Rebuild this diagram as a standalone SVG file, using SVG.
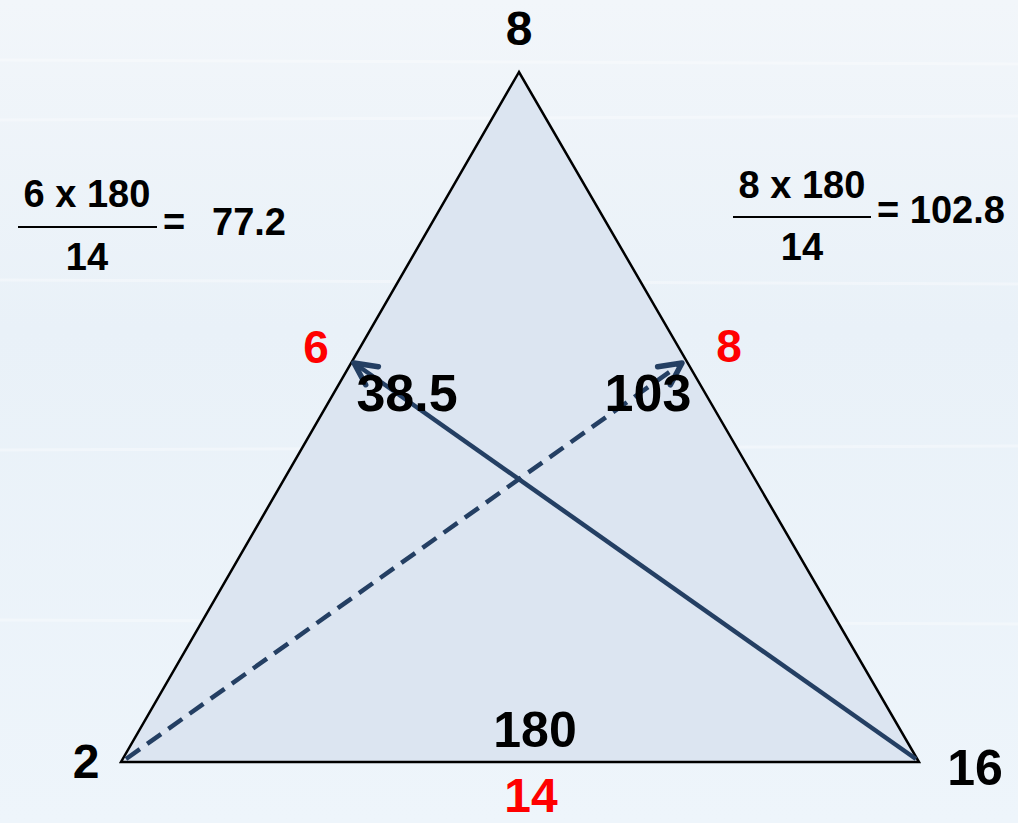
<svg xmlns="http://www.w3.org/2000/svg" width="1018" height="823" viewBox="0 0 1018 823">
<defs>
<linearGradient id="bg" x1="0" y1="0" x2="0" y2="1">
<stop offset="0" stop-color="#f2f6fa"/>
<stop offset="0.4" stop-color="#e9f1f8"/>
<stop offset="1" stop-color="#eef5fb"/>
</linearGradient>
<marker id="arr" viewBox="0 0 20 20" refX="17" refY="10" markerWidth="7" markerHeight="7" markerUnits="strokeWidth" orient="auto">
<path d="M3,3 L17,10 L3,17" fill="none" stroke="#243f63" stroke-width="3.5" stroke-linecap="round" stroke-linejoin="round"/>
</marker>
<style>
.t{font-family:"Liberation Sans",Arial,sans-serif;font-weight:bold;fill:#000}
.r{fill:#ff0000}
.f{font-size:38px}
.c{stroke:#243f63;stroke-width:4.5;fill:none}
</style>
</defs>
<rect width="1018" height="823" fill="url(#bg)"/>
<g opacity="0.35" stroke="#ffffff" stroke-width="3">
<line x1="0" y1="60" x2="1018" y2="64"/>
<line x1="0" y1="120" x2="1018" y2="116"/>
<line x1="0" y1="280" x2="1018" y2="284"/>
<line x1="0" y1="450" x2="1018" y2="446"/>
<line x1="0" y1="620" x2="1018" y2="624"/>
</g>
<g id="triangle">
<polygon points="519,72 121,762 919,762" fill="#dce5f1" stroke="#000" stroke-width="2.5" stroke-linejoin="miter"/>
</g>
<g id="connectors">
<line class="c" x1="916" y1="759" x2="354" y2="363" marker-end="url(#arr)"/>
<line class="c" x1="126" y1="759" x2="682" y2="363" stroke-dasharray="17,9" marker-end="url(#arr)"/>
</g>
<g id="vertex-labels">
<text class="t" x="519" y="45" font-size="48" text-anchor="middle">8</text>
<text class="t" x="86" y="778" font-size="48" text-anchor="middle">2</text>
<text class="t" x="975" y="785" font-size="50" text-anchor="middle">16</text>
</g>
<g id="side-labels">
<text class="t r" x="316" y="363" font-size="46" text-anchor="middle">6</text>
<text class="t r" x="729" y="362" font-size="46" text-anchor="middle">8</text>
<text class="t r" x="531" y="812" font-size="48" text-anchor="middle">14</text>
</g>
<g id="angle-labels">
<text class="t" x="407" y="411" font-size="52" text-anchor="middle">38.5</text>
<text class="t" x="648" y="411" font-size="52" text-anchor="middle">103</text>
<text class="t" x="535" y="747" font-size="50" text-anchor="middle">180</text>
</g>
<g id="formula-left">
<text class="t f" x="87" y="207" text-anchor="middle">6 x 180</text>
<line x1="18" y1="227" x2="157" y2="227" stroke="#000" stroke-width="2"/>
<text class="t f" x="87" y="270" text-anchor="middle">14</text>
<text class="t f" x="163" y="235">=</text>
<text class="t f" x="212" y="235">77.2</text>
</g>
<g id="formula-right">
<text class="t f" x="802" y="198" text-anchor="middle">8 x 180</text>
<line x1="733" y1="217" x2="871" y2="217" stroke="#000" stroke-width="2"/>
<text class="t f" x="802" y="260" text-anchor="middle">14</text>
<text class="t f" x="877" y="223">= 102.8</text>
</g>
</svg>
